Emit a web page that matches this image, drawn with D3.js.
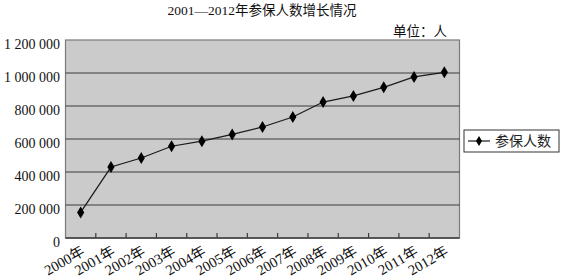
<!DOCTYPE html>
<html>
<head>
<meta charset="utf-8">
<script src="https://cdn.jsdelivr.net/npm/d3@7"></script>
<style>
  html, body { margin: 0; padding: 0; background: #fff; }
  svg { display: block; font-family: "Liberation Serif", "DejaVu Serif", "Noto Sans CJK SC", serif; }
</style>
</head>
<body>
<div id="chart"></div>
<script>
const YEARS = ["2000年", "2001年", "2002年", "2003年", "2004年", "2005年", "2006年",
  "2007年", "2008年", "2009年", "2010年", "2011年", "2012年"];
const INSURED = [155000, 430000, 485000, 556000, 587000, 628000, 673000,
  733000, 824000, 861000, 913000, 976000, 1004000];
const Y_TICKS = [0, 200000, 400000, 600000, 800000, 1000000, 1200000];

const width = 562, height = 278;
const plot = { left: 65.5, right: 459.5, top: 40, bottom: 238 };

const svg = d3.select("#chart").append("svg")
  .attr("width", width).attr("height", height);

const x = d3.scaleBand().domain(YEARS).range([plot.left, plot.right]);
const y = d3.scaleLinear().domain([0, 1200000]).range([plot.bottom, plot.top]);

// thousands separated by a space, like the original
const fmt = (v) => d3.format(",")(v).replace(/,/g, " ");

svg.append("rect")
  .attr("x", plot.left).attr("y", plot.top)
  .attr("width", plot.right - plot.left).attr("height", plot.bottom - plot.top)
  .attr("fill", "#cbcbcb").attr("stroke", "#7a7a7a").attr("stroke-width", 1.2);

// gridlines
svg.append("g").selectAll("line")
  .data(Y_TICKS.filter((d) => d > 0 && d < 1200000))
  .join("line")
  .attr("x1", plot.left).attr("x2", plot.right)
  .attr("y1", (d) => y(d)).attr("y2", (d) => y(d))
  .attr("stroke", "#3c3c3c").attr("stroke-width", 1.2);

// y labels
svg.append("g").selectAll("text")
  .data(Y_TICKS)
  .join("text")
  .attr("x", 60).attr("y", (d) => y(d) + 4)
  .attr("dy", "0.35em")
  .attr("text-anchor", "end")
  .attr("font-size", 14)
  .attr("fill", "#111")
  .text(fmt);

// x axis baseline + ticks between categories
svg.append("line")
  .attr("x1", plot.left).attr("x2", plot.right)
  .attr("y1", plot.bottom).attr("y2", plot.bottom)
  .attr("stroke", "#3c3c3c").attr("stroke-width", 1.4);

svg.append("g").selectAll("line")
  .data(YEARS.slice(1))
  .join("line")
  .attr("x1", (d) => x(d)).attr("x2", (d) => x(d))
  .attr("y1", plot.bottom).attr("y2", plot.bottom - 5)
  .attr("stroke", "#3c3c3c").attr("stroke-width", 1.2);

// x labels, rotated
svg.append("g").selectAll("text")
  .data(YEARS)
  .join("text")
  .attr("text-anchor", "end")
  .attr("font-size", 14.5)
  .attr("fill", "#111")
  .attr("transform", (d) => `translate(${x(d) + x.bandwidth() / 2 + 5},${plot.bottom + 16}) rotate(-30)`)
  .text((d) => d);

// series line
const cx = (i) => x(YEARS[i]) + x.bandwidth() / 2;
svg.append("path")
  .datum(INSURED)
  .attr("fill", "none")
  .attr("stroke", "#1a1a1a")
  .attr("stroke-width", 1.2)
  .attr("d", d3.line().x((d, i) => cx(i)).y((d) => y(d)));

const diamond = "M0,-6L3.6,0L0,6L-3.6,0Z";
svg.append("g").selectAll("path")
  .data(INSURED)
  .join("path")
  .attr("d", diamond)
  .attr("transform", (d, i) => `translate(${cx(i)},${y(d)})`)
  .attr("fill", "#000");

// title and unit
svg.append("text")
  .attr("x", 262).attr("y", 15)
  .attr("text-anchor", "middle")
  .attr("font-size", 13.5)
  .attr("fill", "#111")
  .text("2001—2012年参保人数增长情况");

svg.append("text")
  .attr("x", 447).attr("y", 36)
  .attr("text-anchor", "end")
  .attr("font-size", 13.5)
  .attr("fill", "#111")
  .text("单位：人");

// legend
const lg = svg.append("g").attr("transform", "translate(464,130)");
lg.append("rect")
  .attr("width", 95).attr("height", 22)
  .attr("fill", "#fff").attr("stroke", "#333").attr("stroke-width", 1);
lg.append("line")
  .attr("x1", 4).attr("x2", 26).attr("y1", 11).attr("y2", 11)
  .attr("stroke", "#1a1a1a").attr("stroke-width", 1.2);
lg.append("path").attr("d", diamond).attr("transform", "translate(15,11) scale(0.85)").attr("fill", "#000");
lg.append("text")
  .attr("x", 31).attr("y", 11).attr("dy", "0.36em")
  .attr("font-size", 14)
  .attr("fill", "#222")
  .text("参保人数");
</script>
</body>
</html>
